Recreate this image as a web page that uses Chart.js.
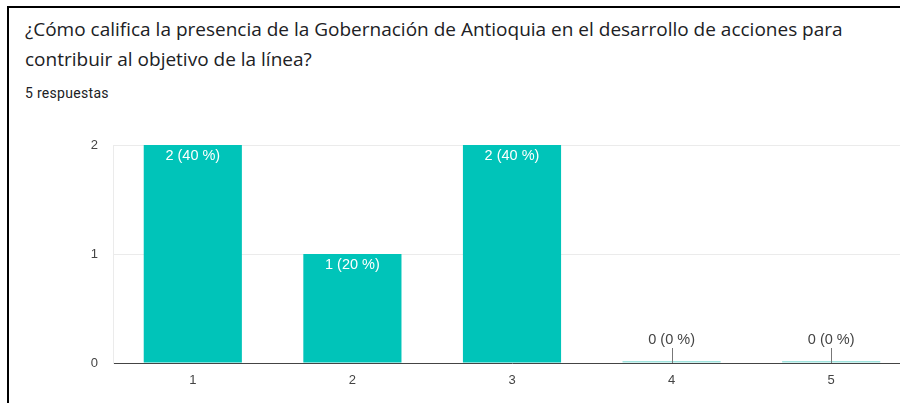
<!DOCTYPE html>
<html>
<head>
<meta charset="utf-8">
<script src="https://cdn.jsdelivr.net/npm/chart.js@4/dist/chart.umd.min.js"></script>
<style>
    html, body { margin: 0; padding: 0; background: #fff; }
    body { width: 900px; height: 403px; overflow: hidden; position: relative; }
    .card {
        position: absolute; left: 7px; top: 6px; width: 900px; height: 420px;
        border-left: 2px solid #000; border-top: 2px solid #000;
    }
    .title {
        position: absolute; left: 25px; top: 14px; width: 850px;
        font-family: "Open Sans", Roboto, sans-serif; font-size: 19px; line-height: 30px;
        color: #202124;
    }
    .sub {
        position: absolute; left: 25px; top: 85px;
        font-family: Roboto, sans-serif; font-size: 14px; letter-spacing: 0.3px; color: #202124;
    }
    #chartWrap { position: absolute; left: 0; top: 120px; width: 920px; height: 283px; }
</style>
</head>
<body>
<div class="card"></div>
<div class="title">¿Cómo califica la presencia de la Gobernación de Antioquia en el desarrollo de acciones para contribuir al objetivo de la línea?</div>
<div class="sub">5 respuestas</div>
<div id="chartWrap"><canvas id="chart" width="920" height="283"></canvas></div>

<script>
const categories = ['1', '2', '3', '4', '5'];
const counts = [2, 1, 2, 0, 0];
const percents = [40, 20, 40, 0, 0];
const yTicks = [0, 1, 2];

const barColor = '#00c4b9';
const emptyBarColor = '#9fe3de';

// labels like "2 (40 %)" drawn on top of each bar
const barLabels = {
    id: 'barLabels',
    afterDatasetsDraw(chart) {
        const ctx = chart.ctx;
        const meta = chart.getDatasetMeta(0);
        const y = chart.scales.y;
        ctx.save();
        ctx.font = '14.5px "Liberation Sans", Arial, sans-serif';
        ctx.textAlign = 'center';
        ctx.textBaseline = 'middle';
        meta.data.forEach((bar, i) => {
            const txt = `${counts[i]} (${percents[i]} %)`;
            if (counts[i] > 0) {
                ctx.fillStyle = '#fff';
                ctx.fillText(txt, bar.x, y.getPixelForValue(counts[i]) + 10.5);
            } else {
                const base = y.getPixelForValue(0);
                ctx.fillStyle = '#444';
                ctx.fillText(txt, bar.x, base - 23);
                ctx.strokeStyle = '#777';
                ctx.lineWidth = 1;
                ctx.beginPath();
                ctx.moveTo(Math.round(bar.x) + 0.5, base - 15);
                ctx.lineTo(Math.round(bar.x) + 0.5, base);
                ctx.stroke();
            }
        });
        ctx.restore();
    }
};

new Chart(document.getElementById('chart'), {
    type: 'bar',
    data: {
        labels: categories,
        datasets: [{
            data: counts,
            backgroundColor: counts.map(v => v > 0 ? barColor : emptyBarColor),
            borderWidth: 0,
            minBarLength: 2,
            categoryPercentage: 1,
            barPercentage: 0.615
        }]
    },
    options: {
        responsive: false,
        animation: false,
        layout: { padding: { top: 25, right: 9, bottom: 16, left: 0 } },
        plugins: { legend: { display: false }, tooltip: { enabled: false } },
        scales: {
            x: {
                grid: { display: false, drawTicks: false },
                border: { display: true, color: '#444', width: 1 },
                ticks: { padding: 10, color: '#444', font: { family: '"Liberation Sans", Arial, sans-serif', size: 13 } },
                afterFit: s => { s.height = 24; }
            },
            y: {
                min: 0, max: 2,
                afterBuildTicks: s => { s.ticks = yTicks.map(v => ({ value: v })); },
                grid: { color: '#ebebeb', drawTicks: false },
                border: { display: true, color: '#ebebeb' },
                ticks: { padding: 15, color: '#444', font: { family: '"Liberation Sans", Arial, sans-serif', size: 13 } },
                afterFit: s => { s.width = 113; }
            }
        }
    },
    plugins: [barLabels]
});
</script>
</body>
</html>
